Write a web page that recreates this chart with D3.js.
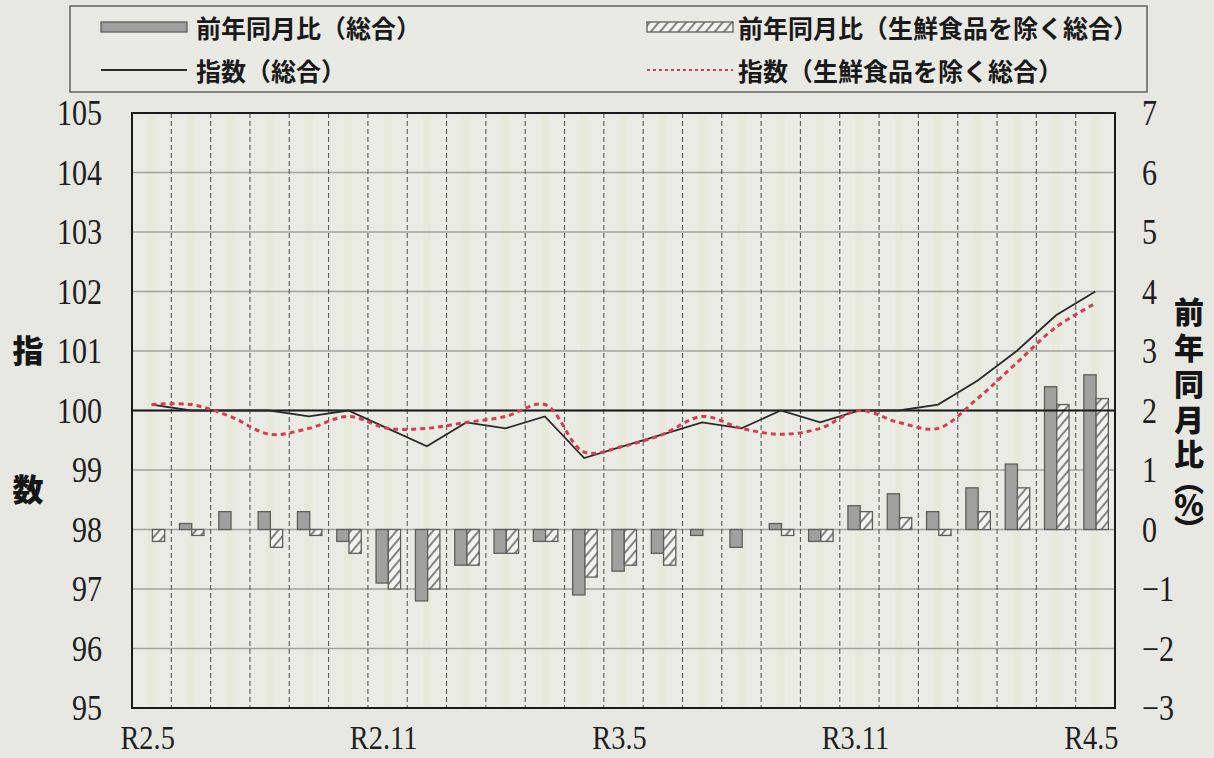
<!DOCTYPE html>
<html>
<head>
<meta charset="utf-8">
<script src="https://cdn.jsdelivr.net/npm/d3@7"></script>
<style>
  html, body { margin: 0; padding: 0; background: #e8e8e3; }
  svg { display: block; }
</style>
</head>
<body>
<svg id="chart" width="1214" height="758"></svg>
<script>
// Months (Reiwa year.month)
const months = [
  "R2.5", "R2.6", "R2.7", "R2.8", "R2.9", "R2.10", "R2.11", "R2.12",
  "R3.1", "R3.2", "R3.3", "R3.4", "R3.5", "R3.6", "R3.7", "R3.8",
  "R3.9", "R3.10", "R3.11", "R3.12", "R4.1", "R4.2", "R4.3", "R4.4", "R4.5"
];
const labeledMonths = ["R2.5", "R2.11", "R3.5", "R3.11", "R4.5"];

// Index (left axis)
const indexAll = [
  100.1, 100.0, 100.0, 100.0, 99.9, 100.0, 99.7, 99.4,
  99.8, 99.7, 99.9, 99.2, 99.4, 99.6, 99.8, 99.7,
  100.0, 99.8, 100.0, 100.0, 100.1, 100.5, 101.0, 101.6, 102.0
];
const indexCore = [
  100.1, 100.1, 99.9, 99.6, 99.7, 99.9, 99.7, 99.7,
  99.8, 99.9, 100.1, 99.3, 99.4, 99.6, 99.9, 99.7,
  99.6, 99.7, 100.0, 99.8, 99.7, 100.2, 100.8, 101.4, 101.8
];

// Year-on-year change, % (right axis)
const yoyAll = [
  0.0, 0.1, 0.3, 0.3, 0.3, -0.2, -0.9, -1.2,
  -0.6, -0.4, -0.2, -1.1, -0.7, -0.4, -0.1, -0.3,
  0.1, -0.2, 0.4, 0.6, 0.3, 0.7, 1.1, 2.4, 2.6
];
const yoyCore = [
  -0.2, -0.1, 0.0, -0.3, -0.1, -0.4, -1.0, -1.0,
  -0.6, -0.4, -0.2, -0.8, -0.6, -0.6, 0.0, 0.0,
  -0.1, -0.2, 0.3, 0.2, -0.1, 0.3, 0.7, 2.1, 2.2
];

const leftTicks = [95, 96, 97, 98, 99, 100, 101, 102, 103, 104, 105];
const rightTicks = [-3, -2, -1, 0, 1, 2, 3, 4, 5, 6, 7];
const rightTickText = d => (d < 0 ? "\u2212" + Math.abs(d) : String(d));

const legendItems = [
  { key: "barAll",  text: "前年同月比（総合）" },
  { key: "barCore", text: "前年同月比（生鮮食品を除く総合）" },
  { key: "lineAll", text: "指数（総合）" },
  { key: "lineCore", text: "指数（生鮮食品を除く総合）" }
];

// ---------- layout ----------
const plot = { left: 132, right: 1115, top: 113, bottom: 708 };
const numFont = "'Liberation Serif', 'Times New Roman', serif";
const jpFont = "'Noto Sans CJK JP', 'Noto Sans', sans-serif";
const squeeze = 0.86;

const svg = d3.select("#chart");
const defs = svg.append("defs");

const hatch = defs.append("pattern")
  .attr("id", "hatch")
  .attr("patternUnits", "userSpaceOnUse")
  .attr("width", 7).attr("height", 7)
  .attr("patternTransform", "rotate(40)");
hatch.append("rect").attr("width", 7).attr("height", 7).attr("fill", "#f3f3ef");
hatch.append("line")
  .attr("x1", 1).attr("y1", 0).attr("x2", 1).attr("y2", 7)
  .attr("stroke", "#6f6f6f").attr("stroke-width", 1.7);

// scales
const x = d3.scaleBand().domain(months).range([plot.left, plot.right]);
const bw = x.bandwidth();
const xSub = d3.scaleBand().domain(["all", "core"]).range([bw / 2 - 11.5, bw / 2 + 13]);
const yL = d3.scaleLinear().domain([95, 105]).range([plot.bottom, plot.top]);
const yR = d3.scaleLinear().domain([-3, 7]).range([plot.bottom, plot.top]);

// page background
svg.append("rect").attr("width", 1214).attr("height", 758).attr("fill", "#e8e8e3");

// plot background
svg.append("rect")
  .attr("x", plot.left).attr("y", plot.top)
  .attr("width", plot.right - plot.left).attr("height", plot.bottom - plot.top)
  .attr("fill", "#ebebe6");

// pale column stripes
svg.append("g").selectAll("rect")
  .data(months)
  .join("rect")
  .attr("x", d => x(d) + bw / 2 - 4)
  .attr("y", plot.top)
  .attr("width", 8)
  .attr("height", plot.bottom - plot.top)
  .attr("fill", "#e1e6c8")
  .attr("opacity", 0.4);

// horizontal grid
svg.append("g").selectAll("line")
  .data(leftTicks)
  .join("line")
  .attr("x1", plot.left).attr("x2", plot.right)
  .attr("y1", d => yL(d)).attr("y2", d => yL(d))
  .attr("stroke", "#a2a29e").attr("stroke-width", 1.4);

// vertical dashed grid at month boundaries
svg.append("g").selectAll("line")
  .data(months.slice(1))
  .join("line")
  .attr("x1", d => x(d)).attr("x2", d => x(d))
  .attr("y1", plot.top).attr("y2", plot.bottom)
  .attr("stroke", "#5a5a58").attr("stroke-width", 1.1)
  .attr("stroke-dasharray", "5,3");

// bars
const barG = svg.append("g");
const barData = months.flatMap((m, i) => [
  { m, key: "all", v: yoyAll[i] },
  { m, key: "core", v: yoyCore[i] }
]);
barG.selectAll("rect")
  .data(barData.filter(d => d.v !== 0))
  .join("rect")
  .attr("x", d => x(d.m) + xSub(d.key))
  .attr("width", xSub.bandwidth())
  .attr("y", d => Math.min(yR(d.v), yR(0)))
  .attr("height", d => Math.abs(yR(d.v) - yR(0)))
  .attr("fill", d => d.key === "all" ? "#a0a09e" : "url(#hatch)")
  .attr("stroke", "#5e5e5c")
  .attr("stroke-width", 1.3);

// reference line at 100
svg.append("line")
  .attr("x1", plot.left).attr("x2", plot.right)
  .attr("y1", yL(100)).attr("y2", yL(100))
  .attr("stroke", "#1a1a1a").attr("stroke-width", 2.2);

// index lines
const cx = m => x(m) + bw / 2;
const lineAll = d3.line().x((d, i) => cx(months[i])).y(d => yL(d));
const lineCore = d3.line().x((d, i) => cx(months[i])).y(d => yL(d)).curve(d3.curveCatmullRom.alpha(0.5));

svg.append("path")
  .datum(indexAll)
  .attr("d", lineAll)
  .attr("fill", "none")
  .attr("stroke", "#2a2a2a")
  .attr("stroke-width", 1.8);

svg.append("path")
  .datum(indexCore)
  .attr("d", lineCore)
  .attr("fill", "none")
  .attr("stroke", "#d2404f")
  .attr("stroke-width", 3)
  .attr("stroke-dasharray", "5,4");

// plot frame
svg.append("rect")
  .attr("x", plot.left).attr("y", plot.top)
  .attr("width", plot.right - plot.left).attr("height", plot.bottom - plot.top)
  .attr("fill", "none").attr("stroke", "#1a1a1a").attr("stroke-width", 2);

// ---------- axes ----------
function styleAxisText(sel) {
  sel.select(".domain").remove();
  sel.selectAll(".tick line").remove();
  sel.selectAll("text")
    .attr("font-family", numFont)
    .attr("font-size", 35)
    .attr("fill", "#1e1e1e");
}

const leftAxis = svg.append("g")
  .attr("transform", `translate(${plot.left},0)`)
  .call(d3.axisLeft(yL).tickValues(leftTicks).tickSize(0).tickFormat(d3.format("d")));
styleAxisText(leftAxis);
leftAxis.selectAll("text")
  .attr("transform", `scale(${squeeze},1)`)
  .attr("x", -30 / squeeze)
  .attr("dy", "0.34em")
  .attr("text-anchor", "end");

const rightAxis = svg.append("g")
  .attr("transform", `translate(${plot.right},0)`)
  .call(d3.axisRight(yR).tickValues(rightTicks).tickSize(0).tickFormat(rightTickText));
styleAxisText(rightAxis);
rightAxis.selectAll("text")
  .attr("transform", `scale(${squeeze},1)`)
  .attr("x", 27 / squeeze)
  .attr("dy", "0.34em")
  .attr("text-anchor", "start");

const bottomAxis = svg.append("g")
  .attr("transform", `translate(0,${plot.bottom})`)
  .call(d3.axisBottom(x).tickValues(labeledMonths).tickSize(0));
styleAxisText(bottomAxis);
// labels are horizontally squeezed, so each tick's x is expressed in the squeezed frame
bottomAxis.selectAll(".tick").each(function (d) {
  const t = d3.select(this);
  t.attr("transform", null);
  t.select("text")
    .attr("font-size", 33)
    .attr("transform", `scale(${squeeze},1)`)
    .attr("x", (cx(d) - 4) / squeeze)
    .attr("y", 41)
    .attr("dy", 0)
    .attr("text-anchor", "middle");
});

// axis titles
const titleStyle = s => s
  .attr("font-family", jpFont)
  .attr("font-weight", 900)
  .attr("fill", "#151515")
  .attr("text-anchor", "middle")
  .attr("dominant-baseline", "central");

svg.append("text").text("指").attr("x", 28).attr("y", 348).attr("font-size", 31).call(titleStyle);
svg.append("text").text("数").attr("x", 28).attr("y", 487).attr("font-size", 31).call(titleStyle);

// right title, stacked vertically: one glyph per row via per-character positions
const rightTitleText = "前年同月比︵%︶";
const rightTitleRows = [310, 346, 382, 418, 452, 478, 503, 528];
svg.append("text")
  .text(rightTitleText)
  .attr("x", rightTitleRows.map(() => 1189).join(" "))
  .attr("y", rightTitleRows.join(" "))
  .attr("font-size", 30)
  .call(titleStyle);

// ---------- legend ----------
const lg = svg.append("g");
lg.append("rect")
  .attr("x", 70).attr("y", 6).attr("width", 1077).attr("height", 86)
  .attr("fill", "#eaeae5").attr("stroke", "#6a6a68").attr("stroke-width", 1.6);

const slots = {
  barAll:  { sx: 101, tx: 196, y: 27 },
  barCore: { sx: 647, tx: 738, y: 27 },
  lineAll: { sx: 101, tx: 196, y: 70 },
  lineCore:{ sx: 647, tx: 738, y: 70 }
};
const swW = 86;

legendItems.forEach(item => {
  const s = slots[item.key];
  if (item.key === "barAll" || item.key === "barCore") {
    lg.append("rect")
      .attr("x", s.sx).attr("y", s.y - 5).attr("width", swW).attr("height", 10)
      .attr("fill", item.key === "barAll" ? "#a0a09e" : "url(#hatch)")
      .attr("stroke", "#5e5e5c").attr("stroke-width", 1.3);
  } else if (item.key === "lineAll") {
    lg.append("line")
      .attr("x1", s.sx).attr("x2", s.sx + swW).attr("y1", s.y).attr("y2", s.y)
      .attr("stroke", "#2a2a2a").attr("stroke-width", 2);
  } else {
    lg.append("line")
      .attr("x1", s.sx).attr("x2", s.sx + swW).attr("y1", s.y).attr("y2", s.y)
      .attr("stroke", "#d2404f").attr("stroke-width", 2.2).attr("stroke-dasharray", "3,3");
  }
  lg.append("text")
    .text(item.text)
    .attr("x", s.tx).attr("y", s.y)
    .attr("font-family", jpFont)
    .attr("font-weight", 700)
    .attr("font-size", 25)
    .attr("fill", "#1a1a1a")
    .attr("dominant-baseline", "central");
});
</script>
</body>
</html>
